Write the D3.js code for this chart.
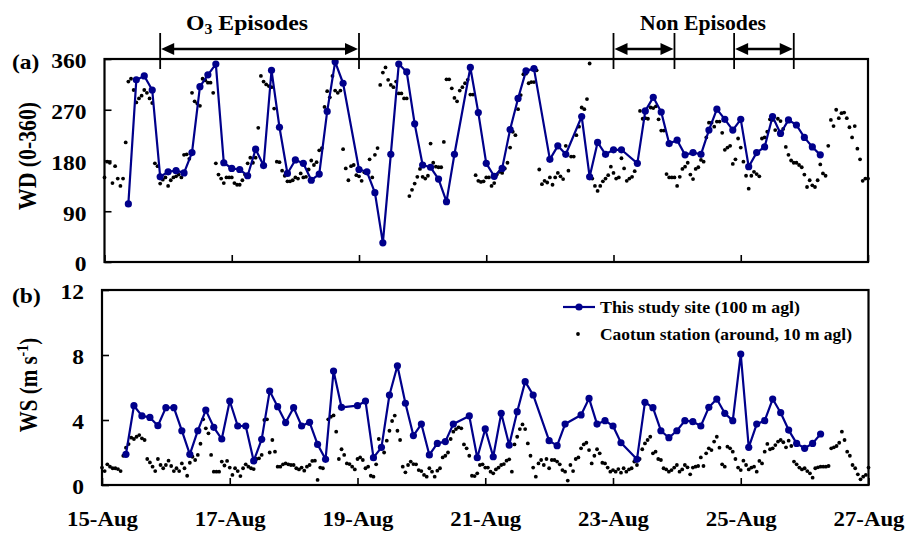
<!DOCTYPE html>
<html>
<head>
<meta charset="utf-8">
<script src="https://cdn.jsdelivr.net/npm/d3@7"></script>
<style>
  body { margin: 0; background: #fff; }
  svg text { font-family: "Liberation Serif", "Times New Roman", serif; font-weight: bold; fill: #000; }
</style>
</head>
<body>
<svg id="chart" width="905" height="534"></svg>
<script>
// ---- Time axis (hours since 15-Aug 00:00) ----
const dayTickHours = [0, 48, 96, 144, 192, 240, 288];
const dayLabels = ["15-Aug", "17-Aug", "19-Aug", "21-Aug", "23-Aug", "25-Aug", "27-Aug"];
const wdTicks = [0, 90, 180, 270, 360];
const wsTicks = [0, 4, 8, 12];

// ---- Study site (100 m agl), 3-hourly from 15-Aug 09:00; null = missing ----
const studyStartHour = 9;
const studyStepHours = 3;
const studyWD = [
  103, 323, 330, 305, 151, 160, 162, 158, 194, 311, 332, 351, 176, 166, 164, 153,
  200, 171, 340, 239, 157, 181, 175, 145, 156, 267, 355, 317, null, 164, 160, 123,
  34, 191, 351, 337, 245, 172, 168, 147, 107, 191, null, 345, 265, 175, 152, 166,
  235, 290, 339, 343, null, 182, 206, 191, null, 258, 151, 212, 191, 199, 199, null,
  175, 268, 292, 266, 210, 216, 190, 194, 191, 234, 271, 253, 234, 253, 169, 194,
  204, 258, 228, 252, 243, 221, 204, 190
];
const studyWS = [
  1.89, 4.88, 4.25, 4.16, 3.65, 4.76, 4.76, 3.34, 1.89, 3.34, 4.61, 3.55, 2.83, 5.17, 3.63, 3.63,
  1.48, 2.81, 5.78, 4.82, 3.84, 4.76, 3.63, 3.86, 2.50, 1.58, 7.01, 4.78, null, 4.88, 5.17, 1.68,
  2.32, 5.54, 7.34, 5.03, 3.04, 3.75, 1.85, 2.56, 2.67, 3.75, null, 4.25, 1.68, 3.45, 1.74, 4.41,
  2.46, 4.51, 6.36, 5.54, null, 2.73, 2.42, 3.75, null, 4.31, 5.33, 3.75, 3.96, 3.63, 2.60, null,
  1.58, 5.09, 4.76, 3.34, 2.91, 3.34, 3.96, 3.90, 3.63, 4.78, 5.29, 4.41, 3.96, 8.06, 2.32, 3.75,
  3.96, 5.29, 4.45, 3.38, 2.56, 2.26, 2.56, 3.14
];

// ---- Caotun station (around, 10 m agl), hourly from 15-Aug 00:00 (one row per day) ----
const caotunWD = [
  150, 178, 176, 140, 170, 148, 135, 148, 212, 320, 325, 305, 283, 290, 295, 305, 300, 290, 282, 175, 170, 139, 146, 150,
  135, 145, 150, 152, 155, 150, 190, 191, 183, 300, 285, 281, 277, 325, 322, 318, 318, 300, 175, 155, 148, 140, 150, 150,
  150, 140, 137, 137, 145, 155, 175, 185, 176, 185, 238, 330, 320, 315, 312, 310, 272, 178, 177, 162, 153, 143, 143, 145,
  150, 148, 157, 150, 151, 164, 180, 172, 177, 198, 202, 275, 303, 292, 330, 304, 300, 304, 200, 166, 145, 170, 172, 154,
  152, 144, 159, 161, 182, 150, 190, 202, 314, 336, 345, 323, 314, 310, 320, 299, 299, 290, 290, 117, 128, 139, 151, 165,
  151, 148, 153, 210, 176, 169, 168, 168, 213, 324, 324, 308, 291, 285, 304, 310, 317, 323, 297, 297, 154, 144, 142, 143,
  150, 150, 135, 140, 155, 160, 158, 166, 176, 203, 231, 225, 271, 296, 333, 334, 317, 319, 319, 340, 164, 138, 144, 141,
  150, 137, 150, 158, 152, 147, 206, 162, 187, 187, 225, 240, 274, 271, 289, 352, 148, 135, 126, 135, 143, 148, 154, 169,
  158, 148, 150, 184, 166, 144, 148, 151, 161, null, 268, 254, 255, 254, 274, 273, 276, 253, 233, 233, 156, 150, 150, 150,
  135, 151, 165, 169, 176, 155, 147, 165, 168, 181, 178, 221, 247, 247, 240, 249, 249, 229, 199, 203, 206, 174, 182, 219,
  203, 178, 153, 130, 153, 160, 156, 152, 219, 221, 231, 253, 252, 234, 254, 250, 236, 204, 190, 180, 176, 176, 172, 168,
  155, 133, 145, 136, 133, 145, 173, 157, 153, 206, 252, 241, 270, 255, 264, 265, 255, 239, 221, 241, 201, 182, 144, 148,
  148
];
const caotunWS = [
  1.07, 0.86, 1.27, 1.13, 1.03, 1.03, 0.98, 0.86, 1.80, 2.30, 2.52, 2.91, 2.83, 2.97, 3.07, 2.87, 2.77, 1.60, 1.39, 1.13, 0.86, 1.60, 1.23, 1.03,
  1.23, 1.50, 1.17, 0.86, 1.03, 0.86, 1.33, 1.03, 0.57, 1.37, 1.74, 1.54, 1.85, 2.54, 4.04, 3.49, 3.18, 1.85, 0.82, 0.82, 0.82, 1.44, 1.20, 1.48,
  1.07, 0.62, 1.03, 0.86, 0.55, 1.03, 1.27, 1.13, 1.03, 0.98, 1.60, 1.64, 1.85, 4.00, 4.04, 2.00, 2.77, 2.05, 1.13, 1.13, 1.27, 1.33, 1.27, 1.23,
  1.23, 1.03, 0.96, 1.07, 0.88, 1.13, 1.23, 1.48, 1.50, 0.31, 1.07, 1.03, 1.68, 4.04, 4.20, 4.28, 3.28, 1.60, 2.20, 1.85, 1.33, 1.29, 1.13, 0.96,
  1.60, 1.70, 1.54, 1.03, 1.13, 0.57, 0.51, 1.27, 2.83, 2.26, 2.00, 2.73, 3.34, 3.94, 4.27, 3.34, 2.77, 1.13, 0.78, 1.23, 1.44, 1.29, 1.27, 0.92,
  0.86, 0.62, 0.51, 1.03, 0.82, 0.51, 0.88, 1.03, 1.70, 1.80, 2.00, 2.83, 3.28, 3.44, 3.55, 3.49, 2.50, 2.26, 1.80, 0.57, 0.55, 0.72, 1.23, 1.27,
  1.07, 1.07, 0.82, 0.72, 0.96, 1.07, 1.23, 1.29, 1.50, 1.58, 0.82, 2.50, 2.97, 3.44, 3.73, 3.44, 2.56, 1.80, 1.07, 0.51, 1.33, 1.54, 1.23, 1.60,
  1.03, 1.54, 1.54, 1.44, 1.27, 0.92, 0.82, 0.27, 1.23, 0.86, 1.60, 1.70, 2.26, 2.50, 2.60, 2.15, 1.33, 1.80, 2.20, 1.95, 1.37, 1.33, 1.07, 0.82,
  0.92, 0.82, 0.98, 0.76, 1.03, 0.82, 0.96, 1.03, 1.44, 1.23, 1.60, 2.20, 2.56, 2.77, 2.97, 1.95, 2.05, 1.60, 1.54, 1.03, 0.96, 0.82, 0.92, 1.07,
  1.23, 0.82, 0.96, 1.23, 1.09, 0.66, 1.07, 1.13, 1.17, 1.70, 1.17, 1.95, 2.26, 2.15, 2.67, 2.97, 2.30, 1.27, 1.13, 2.36, 2.26, 2.05, 1.60, 1.07,
  0.92, 1.50, 1.23, 0.96, 1.07, 1.13, 0.82, 1.48, 1.33, 2.05, 2.53, 2.20, 2.26, 2.46, 2.67, 2.77, 2.63, 2.32, 2.73, 2.40, 1.44, 1.27, 1.07, 0.96,
  1.03, 0.86, 0.72, 0.45, 1.03, 1.09, 1.13, 1.13, 1.13, 1.17, 2.26, 2.32, 2.40, 2.60, 3.28, 2.77, 2.05, 1.80, 1.23, 1.03, 0.66, 0.35, 0.51, 0.62,
  1.07
];

// ---- Episode periods (hours since 15-Aug 00:00) ----
const o3Episodes = [[21, 96]];
const nonEpisodes = [[192, 215], [237.5, 260]];

// ---- Layout ----
const BLUE = "#00008b";
const SX = 1.12; // horizontal stretch applied to horizontal labels
const svg = d3.select("#chart");

const xA = d3.scaleLinear().domain([0, 288]).range([104.5, 868]);
const xB = d3.scaleLinear().domain([0, 288]).range([102, 868.5]);
const yA = d3.scaleLinear().domain([0, 360]).range([262, 59]);
const yB = d3.scaleLinear().domain([0, 12]).range([485, 290]);

function drawPanel(x, y, yTicks, studyVals, caotunVals, showXLabels) {
  const g = svg.append("g");

  // hourly station dots
  const caotunPts = caotunVals.map((v, i) => ({ h: i, v })).filter(d => d.v != null);
  g.append("g").selectAll("circle").data(caotunPts).join("circle")
    .attr("cx", d => x(d.h)).attr("cy", d => y(d.v)).attr("r", 1.9).attr("fill", "#000");

  // study-site line with markers (gaps bridged)
  const studyPts = studyVals.map((v, i) => ({ h: studyStartHour + i * studyStepHours, v }))
    .filter(d => d.v != null);
  g.append("path").datum(studyPts)
    .attr("d", d3.line().x(d => x(d.h)).y(d => y(d.v)))
    .attr("fill", "none").attr("stroke", BLUE).attr("stroke-width", 2.2)
    .attr("stroke-linejoin", "round");
  g.append("g").selectAll("circle").data(studyPts).join("circle")
    .attr("cx", d => x(d.h)).attr("cy", d => y(d.v)).attr("r", 3.6).attr("fill", BLUE);

  // y axis, ticks pointing inward
  const ya = g.append("g").attr("transform", `translate(${x(0)},0)`)
    .call(d3.axisLeft(y).tickValues(yTicks).tickSize(-7).tickPadding(18));
  ya.select(".domain").remove();
  ya.selectAll(".tick line").attr("stroke-width", 1.6);
  ya.selectAll(".tick text")
    .attr("font-size", 21).attr("font-family", null)
    .attr("x", -18 / SX).attr("dy", "0.42em")
    .attr("transform", `scale(${SX},1)`);

  // x axis, ticks pointing inward
  const xa = g.append("g").attr("transform", `translate(0,${y(0)})`)
    .call(d3.axisBottom(x).tickValues(dayTickHours).tickSize(-7).tickPadding(26)
      .tickFormat((d, i) => showXLabels ? dayLabels[i] : ""));
  xa.select(".domain").remove();
  xa.selectAll(".tick line").attr("stroke-width", 1.6);
  xa.selectAll(".tick text")
    .attr("font-size", 21).attr("font-family", null)
    .attr("transform", `scale(${SX * 0.97},1)`);

  // frame
  g.append("rect")
    .attr("x", x(0)).attr("y", y.range()[1])
    .attr("width", x(288) - x(0)).attr("height", y.range()[0] - y.range()[1])
    .attr("fill", "none").attr("stroke", "#000").attr("stroke-width", 2.2);
}

drawPanel(xA, yA, wdTicks, studyWD, caotunWD, false);
drawPanel(xB, yB, wsTicks, studyWS, caotunWS, true);

// ---- Panel tags ----
function hText(xp, yp, txt, size, anchor) {
  return svg.append("text")
    .attr("transform", `translate(${xp},${yp}) scale(${SX},1)`)
    .attr("font-size", size).attr("text-anchor", anchor || "start").text(txt);
}
hText(12, 69, "(a)", 21);
hText(12, 303, "(b)", 21);

// ---- Axis titles (rotated) ----
svg.append("g").attr("transform", "translate(36,156) scale(1.15,1) rotate(-90)")
  .append("text").attr("text-anchor", "middle").attr("font-size", 21)
  .attr("textLength", 108).attr("lengthAdjust", "spacingAndGlyphs")
  .text("WD (0-360)");

const wsTitle = svg.append("g").attr("transform", "translate(37,385) scale(1.15,1) rotate(-90)")
  .append("text").attr("text-anchor", "middle").attr("font-size", 21);
wsTitle.append("tspan").text("WS (m s");
wsTitle.append("tspan").attr("font-size", 14).attr("dy", -8).text("-1");
wsTitle.append("tspan").attr("dy", 8).text(")");

// ---- Episode brackets ----
function bracket(h0, h1) {
  const x0 = xA(h0), x1 = xA(h1), yl = 49;
  const g = svg.append("g");
  [x0, x1].forEach(xv => g.append("line")
    .attr("x1", xv).attr("x2", xv).attr("y1", 33).attr("y2", 69)
    .attr("stroke", "#000").attr("stroke-width", 1.8));
  g.append("line").attr("x1", x0 + 6).attr("x2", x1 - 6).attr("y1", yl).attr("y2", yl)
    .attr("stroke", "#000").attr("stroke-width", 2.4);
  g.append("path").attr("d", `M${x0 + 1},${yl} L${x0 + 14},${yl - 6} L${x0 + 14},${yl + 6} Z`).attr("fill", "#000");
  g.append("path").attr("d", `M${x1 - 1},${yl} L${x1 - 14},${yl - 6} L${x1 - 14},${yl + 6} Z`).attr("fill", "#000");
}
o3Episodes.forEach(e => bracket(e[0], e[1]));
nonEpisodes.forEach(e => bracket(e[0], e[1]));

const o3Label = svg.append("text").attr("x", 247).attr("y", 30)
  .attr("text-anchor", "middle").attr("font-size", 21)
  .attr("textLength", 122).attr("lengthAdjust", "spacingAndGlyphs");
o3Label.append("tspan").text("O");
o3Label.append("tspan").attr("font-size", 14).attr("dy", 4).text("3");
o3Label.append("tspan").attr("dy", -4).text(" Episodes");

svg.append("text").attr("x", 703).attr("y", 30)
  .attr("text-anchor", "middle").attr("font-size", 21)
  .attr("textLength", 126).attr("lengthAdjust", "spacingAndGlyphs")
  .text("Non Episodes");

// ---- Legend ----
const lg = svg.append("g");
lg.append("line").attr("x1", 563).attr("x2", 595).attr("y1", 307).attr("y2", 307)
  .attr("stroke", BLUE).attr("stroke-width", 2.2);
lg.append("circle").attr("cx", 579).attr("cy", 307).attr("r", 3.6).attr("fill", BLUE);
lg.append("circle").attr("cx", 578).attr("cy", 334).attr("r", 1.9).attr("fill", "#000");
lg.append("text").attr("x", 600).attr("y", 313).attr("font-size", 17)
  .attr("textLength", 200).attr("lengthAdjust", "spacingAndGlyphs")
  .text("This study site (100 m agl)");
lg.append("text").attr("x", 600).attr("y", 340).attr("font-size", 17)
  .attr("textLength", 252).attr("lengthAdjust", "spacingAndGlyphs")
  .text("Caotun station (around, 10 m agl)");
</script>
</body>
</html>
